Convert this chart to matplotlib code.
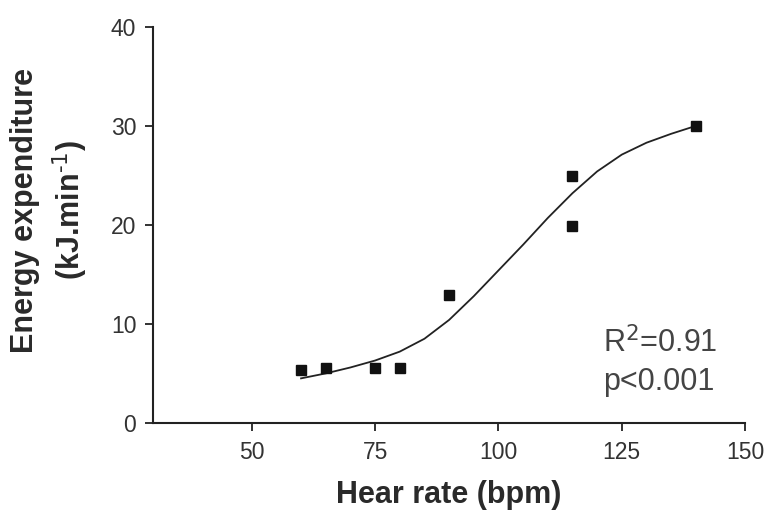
import numpy as np
import matplotlib.pyplot as plt

# measured points
hr = [60, 65, 75, 80, 90, 115, 115, 140]
ee = [5.3, 5.5, 5.5, 5.5, 12.9, 24.9, 19.9, 30.0]

# fitted curve
fit_hr = [60, 65, 70, 75, 80, 85, 90, 95, 100, 105, 110, 115, 120, 125, 130, 135, 140]
fit_ee = [4.5, 5.0, 5.6, 6.3, 7.2, 8.5, 10.4, 12.8, 15.4, 18.0, 20.7, 23.2, 25.4, 27.1, 28.3, 29.2, 30.0]

xticks = [50, 75, 100, 125, 150]
yticks = [0, 10, 20, 30, 40]

plt.rcParams['font.family'] = ['Liberation Sans', 'DejaVu Sans']
txt = '#333333'

fig = plt.figure(figsize=(7.69, 5.17), dpi=100)
ax = fig.add_axes([0.199, 0.182, 0.77, 0.766])

ax.plot(fit_hr, fit_ee, color='#222222', lw=1.3)
ax.plot(hr, ee, 's', color='#111111', ms=7.5)

ax.set_xlim(30, 150)
ax.set_ylim(0, 40)
ax.set_xticks(xticks)
ax.set_yticks(yticks)
for s in ['top', 'right']:
   ax.spines[s].set_visible(False)
for s in ['left', 'bottom']:
   ax.spines[s].set_linewidth(1.5)
   ax.spines[s].set_color('#222222')
ax.tick_params(direction='out', length=6, width=1.3, color='#222222',
               labelsize=16.5, labelcolor=txt)
ax.tick_params(axis='y', pad=6)
ax.tick_params(axis='x', pad=7)

ax.set_xlabel('Hear rate (bpm)', fontsize=22, fontweight='bold', color='#2a2a2a')
ax.xaxis.set_label_coords(0.5, -0.145)

# two-line y label
fig.text(0.033, 0.592, 'Energy expenditure', rotation=90, fontsize=22,
         fontweight='bold', color='#2a2a2a', ha='center', va='center')
fig.text(0.092, 0.594, '(kJ.min$^{\\text{-1}}$)', rotation=90, fontsize=22,
         fontweight='bold', color='#2a2a2a', ha='center', va='center')

ax.text(0.76, 0.177, 'R$^2$=0.91', transform=ax.transAxes, fontsize=22,
        color='#444444', ha='left', va='baseline')
ax.text(0.76, 0.083, 'p<0.001', transform=ax.transAxes, fontsize=22,
        color='#444444', ha='left', va='baseline')

fig.savefig('out.png', dpi=100)
